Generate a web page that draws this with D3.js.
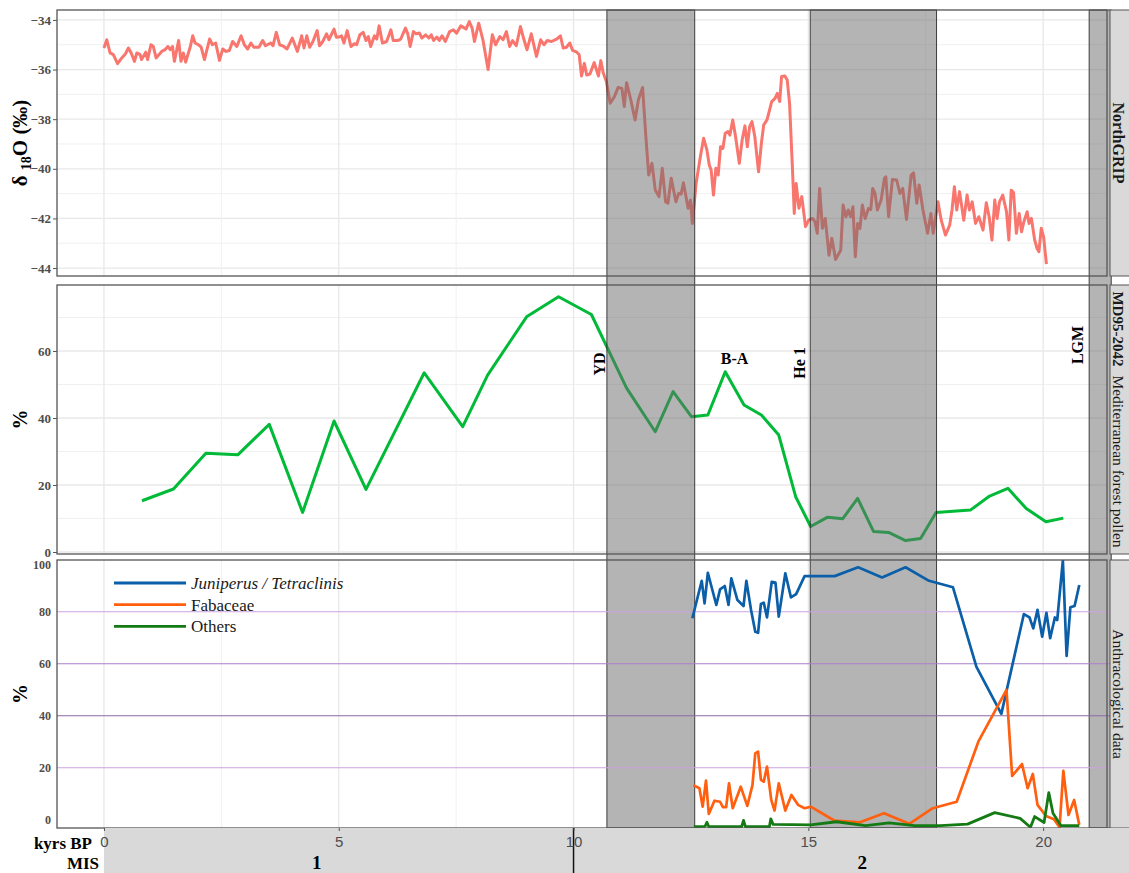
<!DOCTYPE html>
<html>
<head>
<meta charset="utf-8">
<script src="https://cdn.jsdelivr.net/npm/d3@7"></script>
<style>
  body { margin: 0; background: #fff; }
  svg { display: block; }
</style>
</head>
<body>
<svg width="1129" height="873"></svg>
<script>
// ---- data (ages in kyrs BP) ----
const ageTicks = [0, 5, 10, 15, 20];

// NorthGRIP d18O (permil)
const ngripD18O = [
  [0.00,-35.13],[0.06,-34.80],[0.13,-35.33],[0.20,-35.40],[0.29,-35.76],[0.38,-35.53],[0.46,-35.36],[0.52,-35.13],
  [0.58,-35.33],[0.65,-35.67],[0.70,-35.33],[0.77,-35.40],[0.80,-35.60],[0.89,-35.30],[0.93,-35.60],[1.00,-35.00],
  [1.05,-35.07],[1.11,-35.53],[1.23,-35.27],[1.30,-35.20],[1.36,-35.07],[1.41,-35.20],[1.46,-35.07],[1.50,-35.67],
  [1.59,-34.83],[1.64,-35.67],[1.69,-35.33],[1.74,-35.70],[1.84,-35.07],[1.89,-34.64],[1.94,-34.93],[2.01,-35.00],
  [2.07,-35.10],[2.14,-35.60],[2.25,-34.77],[2.31,-35.00],[2.38,-34.93],[2.46,-35.63],[2.53,-35.17],[2.60,-35.27],
  [2.67,-35.23],[2.74,-34.87],[2.83,-35.07],[2.92,-34.64],[2.99,-35.00],[3.06,-35.17],[3.13,-34.93],[3.19,-35.10],
  [3.30,-35.10],[3.38,-34.83],[3.44,-35.04],[3.55,-34.93],[3.60,-35.04],[3.67,-34.50],[3.74,-35.00],[3.83,-35.07],
  [3.90,-35.17],[4.01,-34.73],[4.12,-35.27],[4.21,-34.64],[4.26,-35.13],[4.32,-34.64],[4.38,-35.10],[4.45,-34.87],
  [4.54,-34.43],[4.59,-35.04],[4.66,-34.87],[4.74,-34.56],[4.79,-34.80],[4.90,-34.37],[4.95,-34.70],[5.00,-34.69],
  [5.06,-34.64],[5.11,-34.93],[5.18,-34.43],[5.26,-35.07],[5.33,-34.96],[5.38,-35.00],[5.45,-34.60],[5.52,-34.50],
  [5.58,-34.83],[5.63,-34.67],[5.68,-35.07],[5.76,-34.64],[5.81,-34.77],[5.86,-34.24],[5.93,-34.93],[6.02,-34.87],
  [6.11,-34.40],[6.16,-34.83],[6.25,-34.83],[6.32,-34.77],[6.42,-34.33],[6.47,-34.56],[6.52,-35.07],[6.59,-34.47],
  [6.65,-34.56],[6.72,-34.53],[6.77,-34.73],[6.85,-34.60],[6.92,-34.73],[6.97,-34.60],[7.02,-34.83],[7.09,-34.69],
  [7.14,-34.83],[7.20,-34.64],[7.27,-34.87],[7.36,-34.47],[7.44,-34.40],[7.51,-34.53],[7.60,-34.24],[7.68,-34.33],
  [7.71,-34.37],[7.78,-34.07],[7.84,-34.33],[7.89,-34.87],[7.98,-34.13],[8.07,-34.80],[8.18,-36.00],[8.27,-34.60],
  [8.34,-35.00],[8.43,-34.67],[8.50,-34.80],[8.57,-34.47],[8.64,-35.07],[8.70,-34.83],[8.78,-35.04],[8.87,-34.27],
  [8.94,-34.77],[9.01,-35.20],[9.10,-34.56],[9.21,-35.47],[9.30,-34.80],[9.37,-35.00],[9.44,-34.83],[9.53,-34.87],
  [9.64,-34.77],[9.72,-34.64],[9.78,-35.13],[9.85,-35.10],[9.92,-34.93],[9.98,-35.23],[10.07,-35.30],[10.12,-35.40],
  [10.17,-36.26],[10.23,-35.75],[10.28,-36.22],[10.35,-36.18],[10.44,-35.72],[10.53,-36.26],[10.58,-35.64],[10.63,-36.12],
  [10.70,-36.49],[10.78,-37.36],[10.87,-37.09],[10.95,-36.72],[11.03,-36.76],[11.08,-37.49],[11.13,-36.53],[11.22,-37.23],
  [11.31,-38.03],[11.38,-37.23],[11.47,-36.72],[11.54,-38.70],[11.60,-40.25],[11.67,-39.78],[11.74,-40.85],[11.82,-41.12],
  [11.89,-39.98],[11.96,-41.33],[12.01,-41.39],[12.08,-40.38],[12.18,-41.33],[12.24,-40.99],[12.29,-41.02],[12.34,-40.56],
  [12.44,-41.59],[12.49,-41.26],[12.53,-42.20],[12.61,-40.59],[12.70,-39.51],[12.77,-38.77],[12.84,-39.24],[12.89,-39.85],
  [12.93,-40.05],[12.98,-41.06],[13.03,-39.98],[13.08,-40.25],[13.13,-39.11],[13.18,-39.18],[13.23,-38.57],[13.29,-38.50],
  [13.33,-38.64],[13.39,-38.03],[13.45,-38.70],[13.53,-39.78],[13.59,-38.84],[13.65,-38.27],[13.70,-39.11],[13.75,-38.30],
  [13.80,-38.10],[13.86,-38.70],[13.94,-40.12],[14.00,-38.97],[14.05,-38.23],[14.12,-38.03],[14.22,-37.29],[14.29,-37.16],
  [14.34,-36.96],[14.39,-37.29],[14.43,-36.28],[14.50,-36.26],[14.55,-36.42],[14.60,-37.36],[14.66,-39.91],[14.70,-41.80],
  [14.74,-40.59],[14.80,-41.59],[14.86,-41.12],[14.94,-42.33],[15.01,-42.06],[15.09,-42.00],[15.14,-42.13],[15.19,-42.60],
  [15.24,-40.79],[15.30,-42.40],[15.36,-42.00],[15.44,-43.48],[15.50,-42.80],[15.58,-43.65],[15.69,-43.28],[15.74,-41.46],
  [15.80,-41.93],[15.85,-41.66],[15.90,-41.93],[15.95,-41.53],[16.00,-43.54],[16.05,-42.20],[16.10,-42.40],[16.15,-41.46],
  [16.21,-42.00],[16.28,-41.60],[16.33,-41.64],[16.37,-40.79],[16.42,-40.99],[16.47,-41.66],[16.55,-41.26],[16.62,-40.39],
  [16.65,-40.32],[16.71,-41.93],[16.79,-40.43],[16.88,-40.45],[16.95,-40.99],[17.01,-40.79],[17.09,-42.04],[17.19,-40.25],
  [17.24,-40.16],[17.31,-41.39],[17.36,-40.65],[17.44,-41.66],[17.54,-42.60],[17.61,-41.80],[17.66,-42.60],[17.76,-41.33],
  [17.83,-42.07],[17.92,-42.67],[18.01,-42.27],[18.06,-41.66],[18.11,-40.72],[18.16,-41.66],[18.22,-40.92],[18.31,-42.07],
  [18.38,-41.06],[18.43,-41.66],[18.49,-41.33],[18.56,-42.20],[18.63,-41.93],[18.72,-42.47],[18.79,-41.37],[18.85,-41.93],
  [18.91,-42.87],[18.97,-41.26],[19.02,-42.00],[19.07,-41.33],[19.14,-41.06],[19.22,-41.73],[19.27,-42.87],[19.32,-40.86],
  [19.37,-40.96],[19.43,-42.60],[19.49,-41.80],[19.54,-42.54],[19.59,-42.13],[19.66,-41.73],[19.70,-42.20],[19.75,-42.00],
  [19.82,-42.87],[19.87,-43.21],[19.91,-43.34],[19.96,-42.40],[20.01,-42.74],[20.07,-43.84]
];

// MD95-2042 Mediterranean forest pollen (%)
const forestPollen = [
  [0.81,15.3],[1.48,18.8],[2.17,29.5],[2.85,29.0],[3.52,38.1],[4.23,11.8],[4.90,39.1],[5.58,18.7],
  [6.82,53.5],[7.64,37.4],[8.17,52.8],[9.00,70.2],[9.68,76.2],[10.38,70.9],[11.13,48.9],[11.74,35.9],
  [12.12,47.9],[12.51,40.4],[12.86,40.9],[13.23,53.8],[13.63,43.9],[14.00,40.9],[14.37,34.9],[14.73,16.5],
  [15.05,7.6],[15.41,10.4],[15.73,9.9],[16.05,16.0],[16.39,6.1],[16.72,5.8],[17.07,3.4],[17.39,4.0],
  [17.72,11.8],[18.45,12.5],[18.86,16.7],[19.25,19.0],[19.64,13.0],[20.06,9.0],[20.43,10.1]
];

// Anthracological data (%)
const juniperus = [
  [12.53,77.5],[12.73,91.9],[12.79,83.2],[12.86,95.0],[13.04,82.6],[13.12,88.6],[13.22,89.9],[13.30,82.6],
  [13.36,92.8],[13.49,84.5],[13.62,82.2],[13.68,91.9],[13.78,80.7],[13.87,72.3],[13.93,71.9],[13.99,83.0],
  [14.05,83.5],[14.12,77.8],[14.22,91.5],[14.30,91.2],[14.37,78.1],[14.51,94.8],[14.63,85.5],[14.74,86.8],
  [14.92,93.7],[15.56,93.7],[16.06,97.1],[16.57,93.2],[17.07,97.1],[17.57,91.9],[18.08,89.4],[18.58,58.8],
  [19.11,40.7],[19.59,79.1],[19.71,77.8],[19.79,73.6],[19.88,80.7],[19.98,70.4],[20.07,79.6],[20.15,69.8],
  [20.25,77.8],[20.30,76.8],[20.42,99.8],[20.50,63.0],[20.58,81.7],[20.67,82.2],[20.77,90.3]
];
const fabaceae = [
  [12.55,13.3],[12.68,12.1],[12.75,5.0],[12.82,15.0],[12.88,2.2],[13.00,7.3],[13.12,6.9],[13.18,4.8],
  [13.25,4.8],[13.31,14.0],[13.39,4.4],[13.56,12.7],[13.70,5.3],[13.81,13.3],[13.87,25.5],[13.93,26.2],
  [13.99,15.3],[14.05,14.6],[14.12,20.4],[14.21,7.6],[14.28,3.5],[14.37,14.0],[14.51,3.5],[14.64,9.5],
  [14.78,5.7],[14.92,4.4],[15.05,5.0],[15.56,-0.4],[16.10,-1.0],[16.61,2.5],[17.15,-1.6],[17.65,4.4],
  [18.16,6.9],[18.62,30.0],[19.22,49.9],[19.34,16.8],[19.55,21.4],[19.67,12.1],[19.78,17.6],[19.88,5.7],
  [20.06,1.4],[20.23,0.2],[20.35,-2.9],[20.43,18.8],[20.54,1.8],[20.66,7.6],[20.77,-2.0]
];
const others = [
  [12.56,-2.7],[12.80,-2.6],[12.84,-1.0],[12.88,-2.7],[13.58,-2.7],[13.62,-0.3],[13.66,-2.7],[14.17,-2.7],
  [14.20,0.3],[14.25,-1.8],[15.05,-2.0],[15.60,-0.8],[16.22,-2.3],[16.72,-1.2],[17.26,-2.3],[17.81,-2.3],
  [18.39,-1.7],[18.97,2.7],[19.51,0.5],[19.73,-2.9],[19.82,1.2],[20.02,-1.1],[20.12,10.4],[20.21,2.5],
  [20.38,-2.3],[20.77,-2.3]
];

// shaded events (start, end in kyrs BP)
const bandStart = [10.71, 15.04, 20.98];
const bandEnd   = [12.58, 17.73, 21.45];

// MIS stages
const misLabels = ["1", "2"];
const misCenters = [4.53, 16.15];
const misBoundary = 10;

const legendNames = ["Juniperus / Tetraclinis", "Fabaceae", "Others"];

// ---- layout ----
const svg = d3.select("svg");
const serif = "'Liberation Serif', 'Times New Roman', serif";
const sans = "'Liberation Sans', Arial, sans-serif";
const left = 57, right = 1107;

const x = d3.scaleLinear().domain([-1.0, 21.36]).range([left, right]);

const panels = [
  {top: 10, bottom: 276, domain: [-44.32, -33.6], major: [-44, -42, -40, -38, -36, -34], minor: [-43, -41, -39, -37, -35], fs: 13},
  {top: 285, bottom: 554, domain: [-0.6, 79.7], major: [0, 20, 40, 60], minor: [10, 30, 50, 70], fs: 13},
  {top: 560, bottom: 828, domain: [-3.2, 99.9], major: [0, 20, 40, 60, 80, 100], minor: [], fs: 12}
];
panels.forEach(p => p.y = d3.scaleLinear().domain(p.domain).range([p.bottom, p.top]));

const defs = svg.append("defs");
panels.forEach((p, i) => {
  defs.append("clipPath").attr("id", "clip" + i)
    .append("rect").attr("x", left).attr("y", p.top)
    .attr("width", right - left).attr("height", p.bottom - p.top);
});

// backgrounds and grid
const gridMajorX = [0, 5, 10, 15, 20];
const gridMinorX = [2.5, 7.5, 12.5, 17.5];
panels.forEach((p, i) => {
  const g = svg.append("g");
  g.append("rect").attr("x", left).attr("y", p.top)
    .attr("width", right - left).attr("height", p.bottom - p.top).attr("fill", "#fff");
  if (i < 2) {
    g.selectAll(".hmin").data(p.minor).enter().append("line")
      .attr("x1", left).attr("x2", right)
      .attr("y1", d => p.y(d)).attr("y2", d => p.y(d))
      .attr("stroke", "#f0f0f0").attr("stroke-width", 1);
    g.selectAll(".hmaj").data(p.major).enter().append("line")
      .attr("x1", left).attr("x2", right)
      .attr("y1", d => p.y(d)).attr("y2", d => p.y(d))
      .attr("stroke", "#e8e8e8").attr("stroke-width", 1.3);
  }
  g.selectAll(".vmin").data(gridMinorX).enter().append("line")
    .attr("x1", d => x(d)).attr("x2", d => x(d))
    .attr("y1", p.top).attr("y2", p.bottom)
    .attr("stroke", "#f0f0f0").attr("stroke-width", 1);
  g.selectAll(".vmaj").data(gridMajorX).enter().append("line")
    .attr("x1", d => x(d)).attr("x2", d => x(d))
    .attr("y1", p.top).attr("y2", p.bottom)
    .attr("stroke", "#e8e8e8").attr("stroke-width", 1.3);
});

function drawLine(data, p, i, color, width) {
  const line = d3.line().x(d => x(d[0])).y(d => p.y(d[1]));
  svg.append("path").datum(data)
    .attr("clip-path", `url(#clip${i})`)
    .attr("d", line)
    .attr("fill", "none")
    .attr("stroke", color)
    .attr("stroke-width", width)
    .attr("stroke-linejoin", "round");
}

drawLine(ngripD18O, panels[0], 0, "#F8766D", 3);
drawLine(forestPollen, panels[1], 1, "#00BA38", 3);

// shaded bands across all panels
svg.append("g").selectAll("rect").data(bandStart).enter().append("rect")
  .attr("x", (d, i) => x(d))
  .attr("width", (d, i) => x(bandEnd[i]) - x(d))
  .attr("y", panels[0].top)
  .attr("height", panels[2].bottom - panels[0].top)
  .attr("fill", "#6b6a6b").attr("fill-opacity", 0.5)
  .attr("stroke", "#222").attr("stroke-opacity", 0.85).attr("stroke-width", 1);

// anthracological panel: purple guides and lines above the bands
const p3 = panels[2];
const guideColors = ["#cba2e2", "#8d6aa2", "#a97fc8", "#cba2e2"];
svg.append("g").selectAll("line").data([20, 40, 60, 80]).enter().append("line")
  .attr("x1", left).attr("x2", x(bandEnd[2]) - 0)
  .attr("y1", d => p3.y(d)).attr("y2", d => p3.y(d))
  .attr("stroke", (d, i) => guideColors[i]).attr("stroke-width", 1.1);

const anthColors = ["#0b5fa8", "#ff5f0f", "#147a14"];
drawLine(juniperus, p3, 2, anthColors[0], 2.7);
drawLine(fabaceae, p3, 2, anthColors[1], 2.7);
drawLine(others, p3, 2, anthColors[2], 2.8);

// panel borders, y axes, strips
const stripText = [
  [{t: "NorthGRIP", w: "bold", s: 16}],
  [{t: "MD95-2042", w: "bold", s: 15}, {t: "Mediterranean forest pollen", w: "normal", s: 15.5, dx: 9}],
  [{t: "Anthracological data", w: "normal", s: 15.5}]
];
panels.forEach((p, i) => {
  svg.append("rect").attr("x", left).attr("y", p.top)
    .attr("width", right - left).attr("height", p.bottom - p.top)
    .attr("fill", "none").attr("stroke", "#555").attr("stroke-width", 1.3);

  const ax = svg.append("g").attr("transform", `translate(${left},0)`)
    .call(d3.axisLeft(p.y).tickValues(p.major).tickSize(4).tickPadding(2));
  ax.select(".domain").remove();
  ax.selectAll(".tick line").attr("stroke", "#555");
  ax.selectAll("text").attr("font-family", serif).attr("font-weight", "bold")
    .attr("font-size", p.fs).attr("fill", "#4d4d4d");
  if (i === 2) {
    // top label of the lowest panel sits a little inside the panel
    ax.selectAll(".tick").filter(d => d === 100).select("text").attr("dy", "0.72em");
    ax.selectAll(".tick line").remove();
  }

  svg.append("rect").attr("x", 1110).attr("y", p.top)
    .attr("width", 25).attr("height", p.bottom - p.top)
    .attr("fill", "#d9d9d9").attr("stroke", "#555").attr("stroke-width", 1);
  const st = svg.append("text")
    .attr("transform", `translate(1119,${(p.top + p.bottom) / 2}) rotate(90)`)
    .attr("text-anchor", "middle").attr("dy", "0.35em")
    .attr("font-family", serif).attr("fill", "#1a1a1a");
  stripText[i].forEach(s => {
    st.append("tspan").attr("font-weight", s.w).attr("font-size", s.s)
      .attr("dx", s.dx || 0).text(s.t);
  });
});

// y titles
const t1 = svg.append("text")
  .attr("transform", `translate(27,${(panels[0].top + panels[0].bottom) / 2}) rotate(-90)`)
  .attr("text-anchor", "middle").attr("font-family", serif)
  .attr("font-weight", "bold").attr("font-size", 21).attr("fill", "#000");
t1.append("tspan").text("δ ");
t1.append("tspan").attr("font-size", 14).attr("dy", 4).text("18");
t1.append("tspan").attr("dy", -4).text("O (‰)");

[1, 2].forEach(i => {
  const p = panels[i];
  svg.append("text")
    .attr("transform", `translate(27,${(p.top + p.bottom) / 2}) rotate(-90)`)
    .attr("text-anchor", "middle").attr("font-family", serif)
    .attr("font-weight", "bold").attr("font-size", 20).attr("fill", "#000")
    .text("%");
});

// event labels
const p2 = panels[1];
const evLabels = [
  {t: "YD", ax: 10.56, v: 56.1, rot: true},
  {t: "B-A", ax: 13.43, v: 57.9, rot: false},
  {t: "He 1", ax: 14.82, v: 56.4, rot: true},
  {t: "LGM", ax: 20.72, v: 61.8, rot: true}
];
evLabels.forEach(e => {
  svg.append("text")
    .attr("transform", `translate(${x(e.ax)},${p2.y(e.v)})` + (e.rot ? " rotate(-90)" : ""))
    .attr("text-anchor", "middle").attr("dy", "0.35em")
    .attr("font-family", serif).attr("font-weight", "bold")
    .attr("font-size", 16).attr("fill", "#000").text(e.t);
});

// legend
const lg = svg.append("g");
legendNames.forEach((n, i) => {
  const yy = 583 + i * 21.7;
  lg.append("line").attr("x1", 114).attr("x2", 186).attr("y1", yy).attr("y2", yy)
    .attr("stroke", anthColors[i]).attr("stroke-width", 2.8);
  lg.append("text").attr("x", 191).attr("y", yy).attr("dy", "0.35em")
    .attr("font-family", serif).attr("font-size", 17)
    .attr("font-style", i === 0 ? "italic" : "normal")
    .attr("fill", "#1a1a1a").text(n);
});

// bottom axis and MIS row
svg.append("rect").attr("x", x(0)).attr("y", panels[2].bottom)
  .attr("width", 1129 - x(0)).attr("height", 873 - panels[2].bottom)
  .attr("fill", "#d9d9d9");
svg.append("line").attr("x1", x(misBoundary)).attr("x2", x(misBoundary))
  .attr("y1", panels[2].bottom).attr("y2", 873)
  .attr("stroke", "#111").attr("stroke-width", 1.5);

const xa = svg.append("g").attr("transform", `translate(0,${panels[2].bottom})`)
  .call(d3.axisBottom(x).tickValues(ageTicks).tickSize(3).tickPadding(5));
xa.select(".domain").remove();
xa.selectAll(".tick line").attr("stroke", "#555");
xa.selectAll("text").attr("font-family", sans).attr("font-size", 15).attr("fill", "#4d4d4d");

svg.append("text").attr("x", 92).attr("y", 849).attr("text-anchor", "end")
  .attr("font-family", serif).attr("font-weight", "bold").attr("font-size", 17)
  .attr("fill", "#000").text("kyrs BP");
svg.append("text").attr("x", 99).attr("y", 869).attr("text-anchor", "end")
  .attr("font-family", serif).attr("font-weight", "bold").attr("font-size", 17)
  .attr("fill", "#000").text("MIS");
svg.append("g").selectAll("text").data(misLabels).enter().append("text")
  .attr("x", (d, i) => x(misCenters[i])).attr("y", 869)
  .attr("text-anchor", "middle")
  .attr("font-family", serif).attr("font-weight", "bold").attr("font-size", 19)
  .attr("fill", "#000").text(d => d);
</script>
</body>
</html>
